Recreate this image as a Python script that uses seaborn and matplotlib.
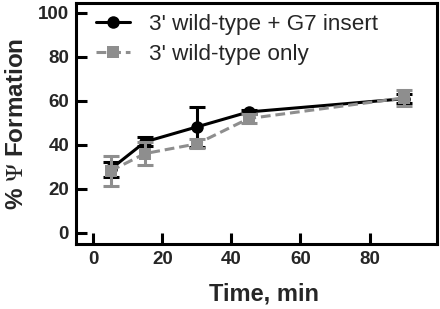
import matplotlib
matplotlib.use("Agg")
import matplotlib.pyplot as plt
import seaborn as sns
import pandas as pd
import numpy as np

time_min = [5, 15, 30, 45, 90]
g7_mean = [29, 41.4, 48.2, 55, 61]
g7_err = [3.4, 2, 9, 1, 2]
wt_mean = [28.2, 36.1, 40.5, 52, 61.4]
wt_err = [6.8, 5.2, 2, 2, 3.6]
series_names = ["3' wild-type + G7 insert", "3' wild-type only"]
x_ticks = [0, 20, 40, 60, 80]
y_ticks = [0, 20, 40, 60, 80, 100]

sns.set_theme(style="ticks")
plt.rcParams['font.family'] = ['Liberation Sans', 'DejaVu Sans']
plt.rcParams['mathtext.fontset'] = 'stix'

black = '#000000'
gray = '#8e8e8e'

fig = plt.figure(figsize=(4.4, 3.09), dpi=100)
ax = fig.add_axes([0.1727, 0.2104, 0.8203, 0.7799])

df = pd.DataFrame({
    'time': time_min * 2,
    'value': g7_mean + wt_mean,
    'series': [series_names[0]] * len(time_min) + [series_names[1]] * len(time_min),
})

ax.errorbar(time_min, g7_mean, yerr=g7_err, fmt='none', ecolor=black,
            elinewidth=2.2, capsize=5.5, capthick=2.2, zorder=2)
sns.lineplot(data=df[df.series == series_names[0]], x='time', y='value',
             color=black, lw=2.2, marker='o', markersize=9, markeredgewidth=0,
             label=series_names[0], ax=ax, zorder=3)
ax.errorbar(time_min, wt_mean, yerr=wt_err, fmt='none', ecolor=gray,
            elinewidth=2.2, capsize=5.5, capthick=2.2, zorder=4)
sns.lineplot(data=df[df.series == series_names[1]], x='time', y='value',
             color=gray, lw=2.2, marker='s', markersize=8, markeredgewidth=0,
             dashes=False, label=series_names[1], ax=ax, zorder=5)
ax.lines[-1].set_linestyle((0, (3.2, 1.6)))

ax.set_xlim(-5, 99.5)
ax.set_ylim(-5, 104.5)
ax.set_xticks(x_ticks)
ax.set_xticklabels([str(v) for v in x_ticks], fontsize=13.5, fontweight='bold')
ax.set_yticks(y_ticks)
ax.set_yticklabels([str(v) for v in y_ticks], fontsize=13.5, fontweight='bold')
for s in ax.spines.values():
    s.set_linewidth(2.2)
    s.set_color('black')
ax.tick_params(direction='in', length=8, width=2.2, color='black')
ax.tick_params(axis='y', pad=5)
ax.tick_params(axis='x', pad=5)

ax.set_xlabel('Time, min', fontsize=17, fontweight='bold')
ax.set_ylabel(r'% $\Psi$ Formation', fontsize=17.5, fontweight='bold')
ax.xaxis.set_label_coords(0.52, -0.16)
ax.yaxis.set_label_coords(-0.133, 0.5)
ax.xaxis.label.set_va('top')

leg = ax.legend(loc='upper left', bbox_to_anchor=(0.012, 1.02), frameon=False,
                fontsize=16.2, handlelength=1.5, handletextpad=0.85,
                labelspacing=0.4, borderaxespad=0.3)

fig.savefig('out.png', dpi=100)
